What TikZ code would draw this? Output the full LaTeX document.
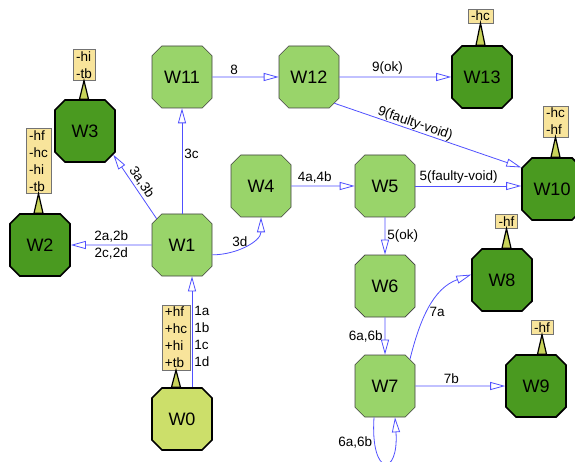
\documentclass[tikz,border=0pt]{standalone}
\usepackage{fontspec}
\setmainfont{Liberation Sans}
\usetikzlibrary{shapes.misc, arrows.meta, calc}

\definecolor{wlight}{HTML}{99D46A}
\definecolor{wdark}{HTML}{4A9A20}
\definecolor{wstart}{HTML}{CCDF6A}
\definecolor{tagfill}{HTML}{F8E49B}
\definecolor{stemfill}{HTML}{C8D35A}
\definecolor{flowblue}{HTML}{5050FF}

\begin{document}
\begin{tikzpicture}[x=1pt, y=-1pt]

\tikzset{wnode/.style = {shape=chamfered rectangle, chamfered rectangle xsep=12pt, draw=black!75, fill=wlight, line width=0.6pt, minimum width=60pt, minimum height=62pt, inner sep=0pt, font=\fontsize{18}{20}\selectfont}}
\tikzset{wfinal/.style = {wnode, fill=wdark, draw=black, line width=1.6pt}}
\tikzset{wstart/.style = {wnode, fill=wstart, draw=black, line width=1.6pt}}
\tikzset{tagbox/.style = {draw=black!55, fill=tagfill, align=left, inner xsep=3pt, inner ysep=2pt, font=\fontsize{13.5}{17}\selectfont}}
\tikzset{stem/.style = {fill=stemfill, draw=black, line width=1.2pt}}
\tikzset{flow/.style = {-{Triangle[open, length=15pt, width=8pt]}, draw=flowblue, line width=0.8pt}}
\tikzset{lbl/.style = {font=\fontsize{13.5}{17}\selectfont, inner sep=2pt}}

\useasboundingbox (0,0) rectangle (575,462);

%states
\node[wstart] (W0) at (182,419) {W0};
\node[wnode] (W1) at (182,245) {W1};
\node[wfinal] (W2) at (40,245) {W2};
\node[wfinal] (W3) at (85,131) {W3};
\node[wnode] (W4) at (261,186) {W4};
\node[wnode] (W5) at (385,186) {W5};
\node[wnode] (W6) at (385,286) {W6};
\node[wnode] (W7) at (385,386) {W7};
\node[wfinal] (W8) at (502,280) {W8};
\node[wfinal] (W9) at (536,386) {W9};
\node[wfinal] (W10) at (552,189) {W10};
\node[wnode] (W11) at (182,77) {W11};
\node[wnode] (W12) at (309,77) {W12};
\node[wfinal] (W13) at (482,77) {W13};

%tags
\node[tagbox] (t0) at (176,337.5) {+hf\\+hc\\+hi\\+tb};
\node[tagbox] (t2) at (38.5,161) {-hf\\-hc\\-hi\\-tb};
\node[tagbox] (t3) at (84,65) {-hi\\-tb};
\node[tagbox] (t8) at (506.5,221.5) {-hf};
\node[tagbox] (t9) at (542,327.5) {-hf};
\node[tagbox] (t10) at (555.5,121.5) {-hc\\-hf};
\node[tagbox] (t13) at (480.5,16) {-hc};

\filldraw[stem] ($(t0.south |- W0.north)+(-4.5,0)$) -- (t0.south) -- ($(t0.south |- W0.north)+(4.5,0)$) -- cycle;
\filldraw[stem] ($(t2.south |- W2.north)+(-4.5,0)$) -- (t2.south) -- ($(t2.south |- W2.north)+(4.5,0)$) -- cycle;
\filldraw[stem] ($(t3.south |- W3.north)+(-4.5,0)$) -- (t3.south) -- ($(t3.south |- W3.north)+(4.5,0)$) -- cycle;
\filldraw[stem] ($(t8.south |- W8.north)+(-4.5,0)$) -- (t8.south) -- ($(t8.south |- W8.north)+(4.5,0)$) -- cycle;
\filldraw[stem] ($(t9.south |- W9.north)+(-4.5,0)$) -- (t9.south) -- ($(t9.south |- W9.north)+(4.5,0)$) -- cycle;
\filldraw[stem] ($(t10.south |- W10.north)+(-4.5,0)$) -- (t10.south) -- ($(t10.south |- W10.north)+(4.5,0)$) -- cycle;
\filldraw[stem] ($(t13.south |- W13.north)+(-4.5,0)$) -- (t13.south) -- ($(t13.south |- W13.north)+(4.5,0)$) -- cycle;

%transitions
\draw[flow] ([xshift=10pt]W0.north) -- node[lbl, right, align=left, yshift=-5pt] {1a\\1b\\1c\\1d} ([xshift=10pt]W1.south);
\draw[flow] (W1) -- node[lbl, align=center] {2a,2b\\2c,2d} (W2);
\draw[flow] (W1.134) -- node[lbl, sloped, above, pos=0.5] {3a,3b} (W3.-40);
\draw[flow] (W1.north) -- node[lbl, right, pos=0.57] {3c} (W11.south);
\draw[flow] (W1.-18) to[out=0, in=-90] node[lbl, above, pos=0.4] {3d} (W4.south);
\draw[flow] (W4) -- node[lbl, above, pos=0.37] {4a,4b} (W5);
\draw[flow] (W5.east) -- node[lbl, above, pos=0.41] {5(faulty-void)} (W5.east -| W10.west);
\draw[flow] (W5) -- node[lbl, right] {5(ok)} (W6);
\draw[flow] (W6) -- node[lbl, left] {6a,6b} (W7);
\draw[flow] ([xshift=-11pt]W7.south) .. controls +(-4,60) and +(4,60) .. node[lbl, left, pos=0.17] {6a,6b} ([xshift=10pt]W7.south);
\draw[flow] (W7.47) to[out=76, in=200] node[lbl, right, pos=0.45] {7a} (W8.170);
\draw[flow] (W7) -- node[lbl, above, pos=0.4] {7b} (W9);
\draw[flow] (W11) -- node[lbl, above, pos=0.33] {8} (W12);
\draw[flow] (W12) -- node[lbl, above, pos=0.43] {9(ok)} (W13);
\draw[flow] (W12.-46) -- node[lbl, sloped, above, inner sep=0pt, pos=0.42] {9(faulty-void)} (W10.145);

\end{tikzpicture}
\end{document}
